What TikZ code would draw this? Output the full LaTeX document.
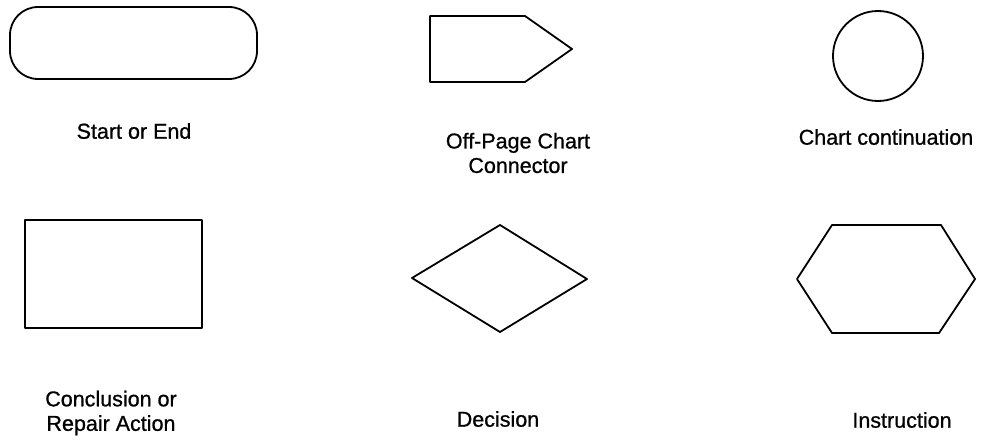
\documentclass[tikz,border=0pt]{standalone}
\usepackage{fontspec}
\setmainfont{Liberation Sans}
\newfontfamily\lblfont[FakeBold=0.8]{Liberation Sans}
\begin{document}
\begin{tikzpicture}[x=1pt,y=-1pt,
  outline/.style={draw=black, line width=1.8pt, line join=round},
  lbl/.style={font=\lblfont\fontsize{21.5}{24.5}\selectfont, align=center, inner sep=0pt}]
\useasboundingbox (0,0) rectangle (982,444);
% Start or End
\node[outline, rectangle, rounded corners=28pt, minimum width=247pt, minimum height=72pt, inner sep=0pt] (start) at (133.5,43) {};
\node[lbl] (startlbl) at (134,131) {Start or End};
% Off-page connector
\draw[outline] (430,16) -- (525,16) -- (572,49) -- (525,82) -- (430,82) -- cycle;
\node[lbl] (offlbl) at (518,153) {Off-Page Chart\\Connector};
% Chart continuation
\node[outline, circle, minimum size=90pt, inner sep=0pt] (cont) at (878,56) {};
\node[lbl] (contlbl) at (886,137) {Chart continuation};
% Conclusion or Repair Action
\node[outline, rectangle, minimum width=177pt, minimum height=108pt, inner sep=0pt] (concl) at (113.5,274) {};
\node[lbl] (concllbl) at (111,413) {Conclusion or\\Repair Action};
% Decision
\draw[outline] (500,225) -- (587,279) -- (500,332) -- (412,278) -- cycle;
\node[lbl] (declbl) at (498,419) {Decision};
% Instruction
\draw[outline] (832,225) -- (941,225) -- (975,279) -- (939,333) -- (832,333) -- (797,279) -- cycle;
\node[lbl] (instlbl) at (902,420) {Instruction};
\end{tikzpicture}
\end{document}
